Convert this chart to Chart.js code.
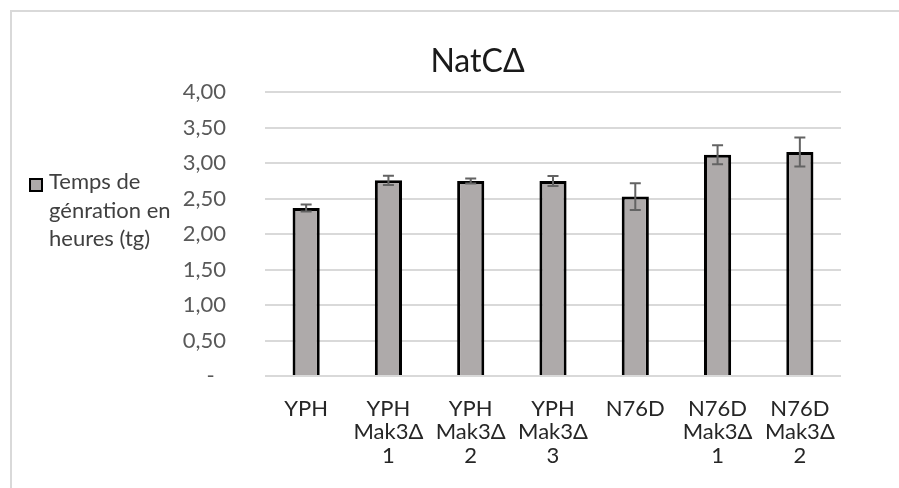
<!DOCTYPE html>
<html>
<head>
<meta charset="utf-8">
<script src="https://cdn.jsdelivr.net/npm/chart.js@4.4.1/dist/chart.umd.min.js"></script>
<style>
  html, body { margin: 0; padding: 0; background: #fff; overflow: hidden; width: 899px; height: 488px; }
  #frame { position: absolute; left: 10px; top: 10px; width: 931px; height: 490px;
           border-left: 2px solid #d9d9d9; border-top: 2px solid #d9d9d9; background: #fff; }
  canvas { display: block; }
</style>
</head>
<body>
<div id="frame"><canvas id="chart" width="931" height="476"></canvas></div>
<script>
const FONT = 'Lato, "Open Sans", sans-serif';

const strains = [
  ['YPH'],
  ['YPH', 'Mak3Δ', '1'],
  ['YPH', 'Mak3Δ', '2'],
  ['YPH', 'Mak3Δ', '3'],
  ['N76D'],
  ['N76D', 'Mak3Δ', '1'],
  ['N76D', 'Mak3Δ', '2']
];
const genTime = [2.37, 2.76, 2.75, 2.75, 2.53, 3.12, 3.16];
const genTimeErr = [0.05, 0.065, 0.035, 0.07, 0.19, 0.135, 0.205];
const seriesName = ['Temps de', 'génration en', 'heures (tg)'];

const BAR_FILL = '#aeaaaa';

// error bars drawn over each bar
const errorBars = {
  id: 'errorBars',
  afterDatasetsDraw(chart) {
    const { ctx, scales: { y } } = chart;
    const meta = chart.getDatasetMeta(0);
    ctx.save();
    ctx.strokeStyle = '#636363';
    ctx.lineWidth = 2;
    meta.data.forEach((bar, i) => {
      const v = genTime[i], e = genTimeErr[i];
      const top = y.getPixelForValue(v + e), bot = y.getPixelForValue(v - e);
      const x = bar.x, cap = 5.5;
      ctx.beginPath();
      ctx.moveTo(x, top); ctx.lineTo(x, bot);
      ctx.moveTo(x - cap, top); ctx.lineTo(x + cap, top);
      ctx.moveTo(x - cap, bot); ctx.lineTo(x + cap, bot);
      ctx.stroke();
    });
    ctx.restore();
  }
};

// legend on the left, wrapped over three lines
const sideLegend = {
  id: 'sideLegend',
  afterDraw(chart) {
    const ctx = chart.ctx;
    ctx.save();
    ctx.fillStyle = BAR_FILL;
    ctx.strokeStyle = '#000';
    ctx.lineWidth = 2;
    ctx.fillRect(18, 167, 12, 12);
    ctx.strokeRect(18, 167, 12, 12);
    ctx.fillStyle = '#404040';
    ctx.font = '22px ' + FONT;
    ctx.textBaseline = 'alphabetic';
    seriesName.forEach((line, i) => ctx.fillText(line, 37, 177 + i * 28.5));
    ctx.restore();
  }
};

new Chart(document.getElementById('chart'), {
  type: 'bar',
  data: {
    labels: strains,
    datasets: [{
      label: seriesName.join(' '),
      data: genTime,
      backgroundColor: BAR_FILL,
      borderColor: '#000',
      borderWidth: 3,
      barPercentage: 0.33,
      categoryPercentage: 1
    }]
  },
  options: {
    responsive: false,
    animation: false,
    layout: { padding: { left: 102, right: 102, top: 0, bottom: 12 } },
    plugins: {
      legend: { display: false },
      tooltip: { enabled: false },
      title: {
        display: true,
        text: 'NatCΔ',
        color: '#1a1a1a',
        font: { family: FONT, size: 32, weight: 'normal' },
        padding: { top: 30, bottom: 12 }
      }
    },
    scales: {
      x: {
        grid: { display: false },
        border: { display: false },
        afterFit: s => { s.height = 100; },
        ticks: { color: '#262626', padding: 13, maxRotation: 0, autoSkip: false,
                 font: { family: FONT, size: 22, lineHeight: 1.07 } }
      },
      y: {
        min: 0, max: 4,
        afterFit: s => { s.width = 151; },
        grid: { color: '#d9d9d9', lineWidth: 2, drawTicks: false },
        border: { display: false },
        ticks: {
          stepSize: 0.5, padding: 39, color: '#595959',
          font: { family: FONT, size: 22 },
          callback: v => v === 0 ? '-  ' : v.toFixed(2).replace('.', ',')
        }
      }
    }
  },
  plugins: [errorBars, sideLegend]
});
</script>
</body>
</html>
